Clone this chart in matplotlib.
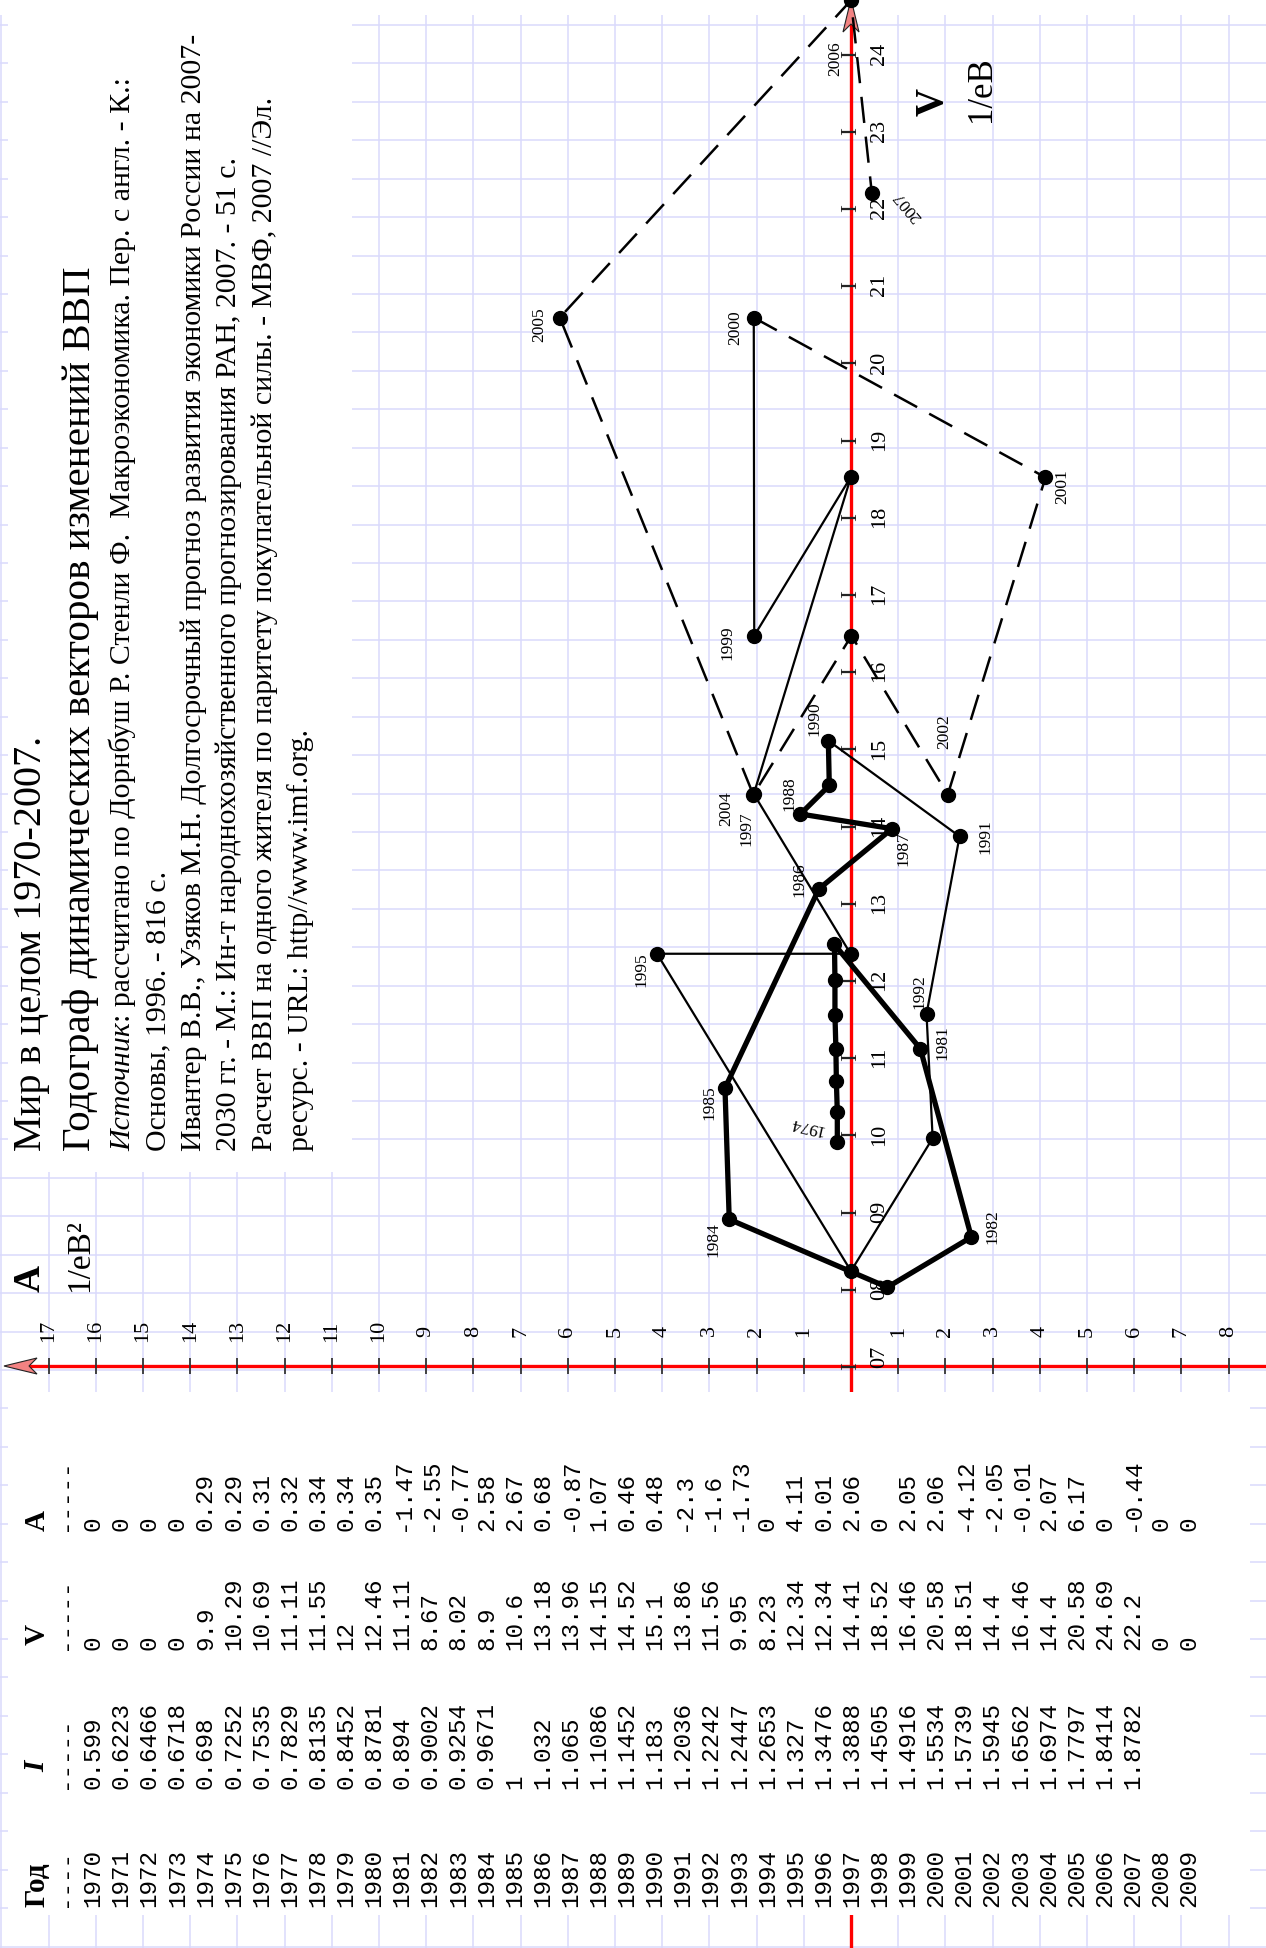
import matplotlib
matplotlib.use('Agg')
import matplotlib.pyplot as plt
from matplotlib.patches import Polygon, Rectangle

# Table data: year, index I, velocity V, acceleration A
years = list(range(1970, 2010))
index_I = [0.599, 0.6223, 0.6466, 0.6718, 0.698, 0.7252, 0.7535, 0.7829, 0.8135, 0.8452,
           0.8781, 0.894, 0.9002, 0.9254, 0.9671, 1, 1.032, 1.065, 1.1086, 1.1452,
           1.183, 1.2036, 1.2242, 1.2447, 1.2653, 1.327, 1.3476, 1.3888, 1.4505, 1.4916,
           1.5534, 1.5739, 1.5945, 1.6562, 1.6974, 1.7797, 1.8414, 1.8782, None, None]
speed_V = [0, 0, 0, 0, 9.9, 10.29, 10.69, 11.11, 11.55, 12,
           12.46, 11.11, 8.67, 8.02, 8.9, 10.6, 13.18, 13.96, 14.15, 14.52,
           15.1, 13.86, 11.56, 9.95, 8.23, 12.34, 12.34, 14.41, 18.52, 16.46,
           20.58, 18.51, 14.4, 16.46, 14.4, 20.58, 24.69, 22.2, 0, 0]
accel_A = [0, 0, 0, 0, 0.29, 0.29, 0.31, 0.32, 0.34, 0.34,
           0.35, -1.47, -2.55, -0.77, 2.58, 2.67, 0.68, -0.87, 1.07, 0.46,
           0.48, -2.3, -1.6, -1.73, 0, 4.11, 0.01, 2.06, 0, 2.05,
           2.06, -4.12, -2.05, -0.01, 2.07, 6.17, 0, -0.44, 0, 0]

# Parts of the hodograph: bold, thin and dashed
bold_years = (1974, 1990)
thin_years = (1990, 2000)
dash_years = (2000, 2007)

# Axis ticks
v_ticks = list(range(7, 25))
a_ticks = [k for k in range(-8, 18) if k != 0]

# Year captions near points: offset in pixels (right, down)
label_offsets = {1974: (-31, -16), 1981: (22, -6), 1982: (21, -10), 1984: (-16, 20),
                 1985: (-16, 15), 1986: (-19, -9), 1987: (11, 20), 1988: (-11, -20),
                 1990: (-14, -22), 1991: (26, 0), 1992: (-7, -22), 1995: (-16, 16),
                 1997: (-7, 35), 1999: (-27, 7), 2000: (-19, 10), 2001: (17, 9),
                 2002: (-4, -63), 2004: (-27, 14), 2005: (-21, 7), 2006: (-16, 58),
                 2007: (36, 14)}
label_rotation = {1974: 167, 2007: 130}

SERIF = ['Liberation Serif', 'DejaVu Serif']
MONO = ['Liberation Mono', 'DejaVu Sans Mono']

W, H = 1266, 1948
X0, SX = 851, 47.2    # pixel column of A=0 and pixels per unit of A
Y7, SY = 1366, 77.2   # pixel row of V=7 and pixels per unit of V

GRID = '#dadafc'


def fx(x):
    return x / W


def fy(y):
    return 1 - y / H


def span(first, last):
    i0, i1 = years.index(first), years.index(last)
    return accel_A[i0:i1 + 1], speed_V[i0:i1 + 1]


def vtext(x, y, s, **kw):
    # text running upwards from pixel point (x, y), baseline on the right
    opts = dict(rotation=90, rotation_mode='anchor', ha='left', va='baseline', family=SERIF)
    opts.update(kw)
    return fig.text(fx(x), fy(y), s, **opts)


fig = plt.figure(figsize=(W / 100, H / 100), dpi=100)
ax = fig.add_axes([0, 0, 1, 1])
ax.set_xlim(X0 / SX, (X0 - W) / SX)
ax.set_ylim(7 - (H - Y7) / SY, 7 + Y7 / SY)
ax.axis('off')

# graph paper
k = 0
while X0 - SX * k > -5:
    ax.plot([fx(X0 - SX * k)] * 2, [0, 1], color=GRID, lw=1.1, transform=ax.transAxes, zorder=0.5)
    k += 1
k = 1
while X0 + SX * k < W + 5:
    ax.plot([fx(X0 + SX * k)] * 2, [0, 1], color=GRID, lw=1.1, transform=ax.transAxes, zorder=0.5)
    k += 1
y = 25
while y < H:
    ax.plot([0, 1], [fy(y)] * 2, color=GRID, lw=1.1, transform=ax.transAxes, zorder=0.5)
    y += 38.43

# red coordinate axes
ax.axvline(0, color='red', lw=2.4, zorder=0.8)
ax.plot([fx(30), 1], [fy(Y7)] * 2, color='red', lw=2.4, transform=ax.transAxes, zorder=0.8)

# blank areas under the text block and the table
for x0, y0, x1, y1 in [(0, 0, W, 15), (8, 0, 352, 1172), (8, 1392, 1250, 1915)]:
    ax.add_patch(Rectangle((fx(x0), fy(y1)), fx(x1 - x0), (y1 - y0) / H, transform=ax.transAxes,
                           facecolor='white', edgecolor='none', zorder=1))

# arrow heads
up = [(X0, -1), (X0 - 8, 32), (X0, 24), (X0 + 8, 32)]
left = [(4, Y7), (37, Y7 - 8), (29, Y7), (37, Y7 + 8)]
for pts in (up, left):
    ax.add_patch(Polygon([(fx(a), fy(b)) for a, b in pts], closed=True, transform=ax.transAxes,
                         facecolor='#f28282', edgecolor='#222222', lw=0.8, zorder=3))

# ticks and tick labels
ax.plot(a_ticks, [7] * len(a_ticks), ls='none', marker='|', ms=11, mew=1.3, color='#333333', zorder=2)
for a in a_ticks:
    ax.annotate(str(abs(a)), (a, 7), xytext=(0, 35), textcoords='offset pixels', rotation=90,
                ha='center', va='center', fontsize=16, family=SERIF, zorder=2)
for v in v_ticks:
    ax.text(0, v, 'I', rotation=90, ha='center', va='center', fontsize=17, family=SERIF,
            color='#222222', zorder=2)
    ax.annotate('%02d' % v, (0, v), xytext=(29, 9 if v == 7 else 0), textcoords='offset pixels',
                rotation=90, ha='center', va='center', fontsize=16, family=SERIF, zorder=2)

# axis titles
vtext(40, 1278, 'A', ha='center', fontsize=27, fontweight='bold')
vtext(88, 1292, '1/eB²', fontsize=24)
vtext(943, 102, 'V', ha='center', fontsize=28, fontweight='bold')
vtext(990, 122, '1/eB', fontsize=25)

# hodograph lines
ax.plot(*span(*bold_years), color='black', lw=3.8, solid_joinstyle='round', zorder=4)
ax.plot(*span(*thin_years), color='black', lw=1.6, zorder=4)
ax.plot(*span(*dash_years), color='black', lw=1.8, ls=(0, (10.5, 5.5)), zorder=4)
ax.plot(*span(1974, 2007), ls='none', marker='o', ms=10, color='black', zorder=5)

for yr, (dx, dy) in label_offsets.items():
    i = years.index(yr)
    ax.annotate(str(yr), (accel_A[i], speed_V[i]), xytext=(dx, -dy), textcoords='offset pixels',
                rotation=label_rotation.get(yr, 90), ha='center', va='center', fontsize=12.5,
                family=SERIF, zorder=6)

# title and sources, written along the page
vtext(41, 1151, 'Мир в целом 1970-2007.', fontsize=29)
vtext(90, 1151, 'Годограф динамических векторов изменений ВВП', fontsize=29.6)

src = vtext(130, 1151, 'Источник', fontsize=21.5, style='italic')
fig.canvas.draw()
src_len = src.get_window_extent().height
vtext(130, 1151 - src_len, ': рассчитано по Дорнбуш Р. Стенли Ф.  Макроэкономика. Пер. с англ. - К.:',
      fontsize=21.5)

source_lines = ['Основы, 1996. - 816 с.',
                'Ивантер В.В., Узяков М.Н. Долгосрочный прогноз развития экономики России на 2007-',
                '2030 гг. - М.: Ин-т народнохозяйственного прогнозирования РАН, 2007. - 51 с.',
                'Расчет ВВП на одного жителя по паритету покупательной силы. - МВФ, 2007 //Эл.',
                'ресурс. - URL: http//www.imf.org.']
for n, line in enumerate(source_lines):
    vtext(165.5 + 35.5 * n, 1151, line, fontsize=21.5)

# table of values
col_start = [1907, 1789, 1650, 1531]
headers = [('Год', 1907, 'normal'), ('I', 1772, 'italic'), ('V', 1645, 'normal'), ('A', 1531, 'normal')]
for text, y0, st in headers:
    vtext(37, y0, text, va='center', fontsize=21, fontweight='bold', style=st)
for y0, dashes in zip(col_start, ['----', '-----', '-----', '-----']):
    vtext(65, y0, dashes, va='center', fontsize=17.5, family=MONO)


def fmt(v):
    return '' if v is None else '%g' % v


for i, yr in enumerate(years):
    x = 93 + 28.1 * i
    row = [str(yr), fmt(index_I[i]), fmt(speed_V[i]), fmt(accel_A[i])]
    for y0, cell in zip(col_start, row):
        vtext(x, y0, cell, va='center', fontsize=17.5, family=MONO)

fig.savefig('out.png', dpi=100)
